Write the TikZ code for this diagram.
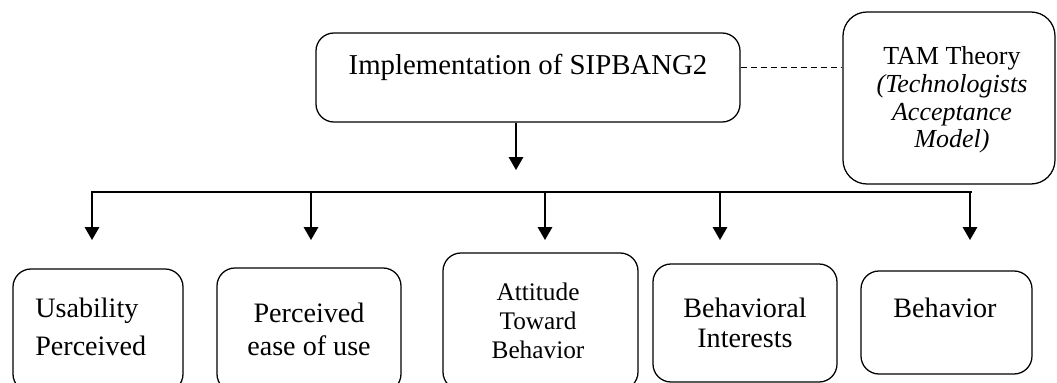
\documentclass[tikz,border=0pt]{standalone}
\usepackage{fontspec}
\setmainfont{Liberation Serif}
\usetikzlibrary{arrows.meta}

\begin{document}
\begin{tikzpicture}[x=0.25mm, y=-0.25mm]
   \useasboundingbox (0,0) rectangle (1057,383);
   \tikzstyle{box}=[draw, rounded corners=4.5mm, line width=0.9pt, inner sep=0pt]
   \tikzstyle{lbl}=[inner sep=0pt, anchor=base, align=center]
   \tikzstyle{arr}=[-{Triangle[width=3.6mm,length=3.2mm]}, line width=1pt]
   % top row
   \node[box, minimum width=106mm, minimum height=22.25mm] (impl) at (528,77.5) {};
   \node[lbl, font=\fontsize{20.5}{24}\selectfont] (impl-t) at (528,75) {Implementation of SIPBANG2};
   \node[box, rounded corners=6mm, minimum width=53mm, minimum height=43mm] (tam) at (949,98) {};
   \node[lbl, font=\fontsize{18.5}{19.7}\selectfont] (tam-t) at (952,148)
      {TAM Theory\\ \textit{(Technologists}\\ \textit{Acceptance}\\ \textit{Model)}};
   \draw[dashed, dash pattern=on 1.5mm off 1mm, line width=0.8pt]
      ([yshift=2.6mm]impl.east) -- ([yshift=2.6mm]impl.east -| tam.west);
   % bottom row
   \node[box, minimum width=42.5mm, minimum height=30.75mm] (usab) at (98,330.5) {};
   \node[lbl, align=left, anchor=base west, font=\fontsize{20}{27}\selectfont] (usab-t) at (35,355) {Usability\\Perceived};
   \node[box, minimum width=46mm, minimum height=31mm] (pease) at (309,330) {};
   \node[lbl, font=\fontsize{20}{22.8}\selectfont] (pease-t) at (309,355) {Perceived\\ease of use};
   \node[box, minimum width=48.75mm, minimum height=34.25mm] (att) at (540.5,321.5) {};
   \node[lbl, font=\fontsize{18}{20.6}\selectfont] (att-t) at (538,358) {Attitude\\Toward\\Behavior};
   \node[box, minimum width=46mm, minimum height=29.5mm] (bint) at (745,323) {};
   \node[lbl, font=\fontsize{20}{21.3}\selectfont] (bint-t) at (745,347) {Behavioral\\Interests};
   \node[box, minimum width=42.75mm, minimum height=25.75mm] (beh) at (946.5,322.5) {};
   \node[lbl, font=\fontsize{20}{24}\selectfont] (beh-t) at (945,317) {Behavior};
   % connectors
   \coordinate (hub) at (516,170);
   \draw[arr] (impl.south -| hub) -- (hub);
   \coordinate (barL) at (91,192);
   \coordinate (barR) at (972,192);
   \draw[line width=2.1pt] (barL) -- (barR);
   \foreach \x/\n in {92/usab,311/pease,545/att,720/bint,970/beh} {
       \coordinate (to-\n) at (\x,240);
       \draw[arr] (to-\n |- barL) -- (to-\n);
   }
\end{tikzpicture}
\end{document}
